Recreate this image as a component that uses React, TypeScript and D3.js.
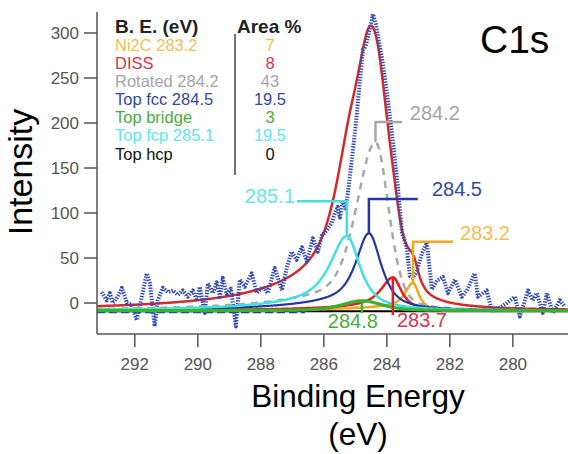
import React from "react";
import * as d3 from "d3";

// Measured C1s spectrum: binding energy (eV) and intensity
const spectrumEnergy = [
  293.05, 292.89, 292.79, 292.70, 292.54, 292.41, 292.25, 292.10, 291.94, 291.78,
  291.62, 291.52, 291.37, 291.27, 291.11, 290.95, 290.79, 290.63, 290.48, 290.32,
  290.16, 290.03, 289.94, 289.78, 289.68, 289.52, 289.40, 289.30, 289.21, 289.08,
  288.95, 288.79, 288.67, 288.51, 288.29, 288.13, 287.94, 287.78, 287.56, 287.33,
  287.17, 287.02, 286.86, 286.70, 286.54, 286.35, 286.19, 286.06, 285.90, 285.75,
  285.65, 285.56, 285.49, 285.40, 285.30, 285.21, 285.11, 284.98, 284.86, 284.76,
  284.67, 284.57, 284.44, 284.35, 284.25, 284.13, 283.97, 283.81, 283.65, 283.52,
  283.46, 283.37, 283.27, 283.17, 283.05, 282.89, 282.73, 282.57, 282.41, 282.22,
  282.06, 281.84, 281.62, 281.46, 281.21, 281.11, 280.83, 280.67, 280.41, 280.19,
  279.94, 279.78, 279.52, 279.37, 279.24, 279.05, 278.92, 278.73, 278.51, 278.35,
];
const spectrumIntensity = [
  12, 3, 11, 0, 7, 17, 0, -2, -19, 7,
  33, 22, -26, 3, 17, 12, 14, 9, 14, 7,
  14, 3, 18, -11, 22, 11, 23, 7, 28, 10,
  16, -26, 26, 18, 33, 11, 18, 11, 39, 14,
  40, 57, 48, 62, 46, 72, 57, 75, 81, 89,
  100, 107, 95, 112, 105, 130, 160, 200, 245, 281,
  285, 300, 321, 310, 290, 267, 226, 181, 129, 78,
  72, 62, 30, 28, 35, 55, 67, 15, 25, 29,
  11, 26, 7, 14, 33, 7, 14, -8, -5, 0,
  7, -15, 14, 3, 11, -11, 11, -11, 3, -4,
];

// Fit components
const compNames = ["Ni2C 283.2", "DISS", "Rotated 284.2", "Top fcc 284.5", "Top bridge", "Top fcp 285.1", "Top hcp"];
const compAreas = ["7", "8", "43", "19.5", "3", "19.5", "0"];
const compCenters = [283.17, 283.81, 284.36, 284.57, 284.79, 285.27, 284.5];
const compHeights = [31, 37, 187, 86, 11, 83, 0];
const compHwHigh = [0.30, 0.45, 0.68, 0.48, 0.75, 0.62, 0.5]; // half width on the high-BE side
const compHwLow = [0.22, 0.33, 0.50, 0.47, 0.75, 0.50, 0.5]; // half width on the low-BE side
const compEta = [0.9, 0.9, 0.35, 0.8, 0.5, 0.85, 0.5];
const compTail = [0.12, 0.12, 0.12, 0.12, 0.0, 0.12, 0]; // inelastic tail toward high BE
const tailWidth = 2.5;
const backgroundLevel = -8.5;

const xTicks = [292, 290, 288, 286, 284, 282, 280];
const yTicks = [0, 50, 100, 150, 200, 250, 300];

// Styling
const lineColors = ["#eeaa1a", "#e0201a", "#a8a8a8", "#2238a0", "#3cb030", "#3ee0e0", "#000000"];
const textColors = ["#f3bd52", "#d9344a", "#a5a5a5", "#2f4aa0", "#48ad3a", "#5ee6ea", "#111111"];
const lineWidths = [2.5, 2.5, 2.5, 2.2, 3.2, 2.5, 2];

// Peak callouts, placed in data units
const callouts = [
  { comp: 0, label: "283.2", barI: 68, barEndE: 281.9, textE: 281.68, textI: 70, anchor: "start" },
  { comp: 1, label: "283.7", barI: -13.5, barEndE: null, textE: 283.68, textI: -27, anchor: "start" },
  { comp: 2, label: "284.2", barI: 201, barEndE: 283.52, textE: 283.27, textI: 203, anchor: "start" },
  { comp: 3, label: "284.5", barI: 115.6, barEndE: 283.02, textE: 282.57, textI: 119, anchor: "start" },
  { comp: 4, label: "284.8", barI: -11, barEndE: null, textE: 285.08, textI: -28, anchor: "middle" },
  { comp: 5, label: "285.1", barI: 113, barEndE: 286.86, textE: 286.92, textI: 111, anchor: "end" },
];

const W = 568;
const H = 454;
const FONT = "Arial, 'Liberation Sans', Helvetica, sans-serif";

function peak(e: number, i: number): number {
  const d = e - compCenters[i];
  const hw = d >= 0 ? compHwHigh[i] : compHwLow[i];
  const u = d / hw;
  const eta = compEta[i];
  let v = compHeights[i] * (eta / (1 + u * u) + (1 - eta) * Math.exp(-Math.LN2 * u * u));
  if (d > 0) {
    const r = d / tailWidth;
    v += (compHeights[i] * compTail[i] * (u * u)) / (1 + u * u) / (1 + r * r);
  }
  return v;
}

export default function App() {
  const x = d3.scaleLinear().domain([293.2, 278.25]).range([97, 568]);
  const y = d3.scaleLinear().domain([-34.4, 323.3]).range([334, 12]);

  const grid = d3.range(278.25, 293.2001, 0.02);
  const line = d3
    .line<[number, number]>()
    .x((d) => x(d[0]))
    .y((d) => y(d[1]));

  const compPaths = compNames.map((_, i) =>
    line(grid.map((e) => [e, backgroundLevel + peak(e, i)] as [number, number]))
  );
  const envelope = line(
    grid.map((e) => {
      let s = backgroundLevel;
      for (let i = 0; i < compNames.length; i++) s += peak(e, i);
      return [e, s] as [number, number];
    })
  );
  const dataPath = line(spectrumEnergy.map((e, i) => [e, spectrumIntensity[i]] as [number, number]));

  const drawOrder = [0, 1, 2, 3, 5, 4];
  const rowBaselines = [51, 69, 87, 105, 123, 141, 160];

  return (
    <svg
      width={W}
      height={H}
      style={{ position: "fixed", left: 0, top: 0, background: "#fff" }}
      fontFamily={FONT}
    >
      <rect width={W} height={H} fill="#fff" />

      {/* background lines */}
      <line x1={x(293.2)} x2={x(278.25)} y1={y(backgroundLevel - 0.5)} y2={y(backgroundLevel - 0.5)} stroke="#000" strokeWidth={2} />
      <line x1={x(293.2)} x2={x(286.6)} y1={y(backgroundLevel - 1.5)} y2={y(backgroundLevel - 1.5)} stroke="#1f3c9c" strokeWidth={2.5} strokeDasharray="8 4" />

      {/* envelope */}
      <path d={envelope || ""} fill="none" stroke="#d42a2a" strokeWidth={2.5} />

      {/* measured spectrum */}
      <path d={dataPath || ""} fill="none" stroke="#2f4bb0" strokeWidth={4} strokeDasharray="1.4 1.4" strokeLinejoin="round" />

      {/* components */}
      {drawOrder.map((i) => (
        <path
          key={i}
          d={compPaths[i] || ""}
          fill="none"
          stroke={lineColors[i]}
          strokeWidth={lineWidths[i]}
          strokeDasharray={i === 2 ? "7 6" : undefined}
        />
      ))}

      {/* callouts */}
      {callouts.map((c) => {
        const ci = c.comp;
        const top = backgroundLevel + compHeights[ci];
        const cx = x(compCenters[ci]);
        let d = `M${cx},${y(top)}L${cx},${y(c.barI)}`;
        if (c.barEndE !== null) d += `L${x(c.barEndE)},${y(c.barI)}`;
        return (
          <g key={c.label}>
            <path d={d} fill="none" stroke={lineColors[ci]} strokeWidth={2.5} />
            <text x={x(c.textE)} y={y(c.textI)} fontSize={20} fill={textColors[ci]} textAnchor={c.anchor}>
              {c.label}
            </text>
          </g>
        );
      })}

      {/* axes */}
      <line x1={97} x2={97} y1={12} y2={334} stroke="#555" strokeWidth={1.5} />
      <line x1={97} x2={W} y1={334} y2={334} stroke="#555" strokeWidth={1.5} />
      {yTicks.map((t) => (
        <g key={t}>
          <line x1={84} x2={97} y1={y(t)} y2={y(t)} stroke="#555" strokeWidth={1.5} />
          <text x={79} y={y(t)} dy="0.35em" fontSize={17} fill="#555" textAnchor="end">
            {t}
          </text>
        </g>
      ))}
      {xTicks.map((t) => (
        <g key={t}>
          <line x1={x(t)} x2={x(t)} y1={334} y2={347} stroke="#555" strokeWidth={1.5} />
          <text x={x(t)} y={370} fontSize={17} fill="#555" textAnchor="middle">
            {t}
          </text>
        </g>
      ))}

      {/* axis titles */}
      <text transform="translate(32,172) rotate(-90)" fontSize={34} textAnchor="middle" fill="#000">
        Intensity
      </text>
      <text x={358} y={407} fontSize={31.5} textAnchor="middle" fill="#000">
        Binding Energy
      </text>
      <text x={358} y={445} fontSize={31.5} textAnchor="middle" fill="#000">
        (eV)
      </text>
      <text x={480} y={53} fontSize={39} fill="#000">
        C1s
      </text>

      {/* component table */}
      <text x={115} y={33} fontSize={19} fontWeight="bold" fill="#222">
        B. E. (eV)
      </text>
      <text x={237} y={33} fontSize={19} fontWeight="bold" fill="#222">
        Area %
      </text>
      <line x1={235} x2={235} y1={34} y2={175} stroke="#444" strokeWidth={1.5} />
      {compNames.map((n, i) => (
        <g key={n}>
          <text x={115} y={rowBaselines[i]} fontSize={16.5} fill={textColors[i]}>
            {n}
          </text>
          <text x={270} y={rowBaselines[i]} fontSize={16.5} fill={textColors[i]} textAnchor="middle">
            {compAreas[i]}
          </text>
        </g>
      ))}
    </svg>
  );
}
